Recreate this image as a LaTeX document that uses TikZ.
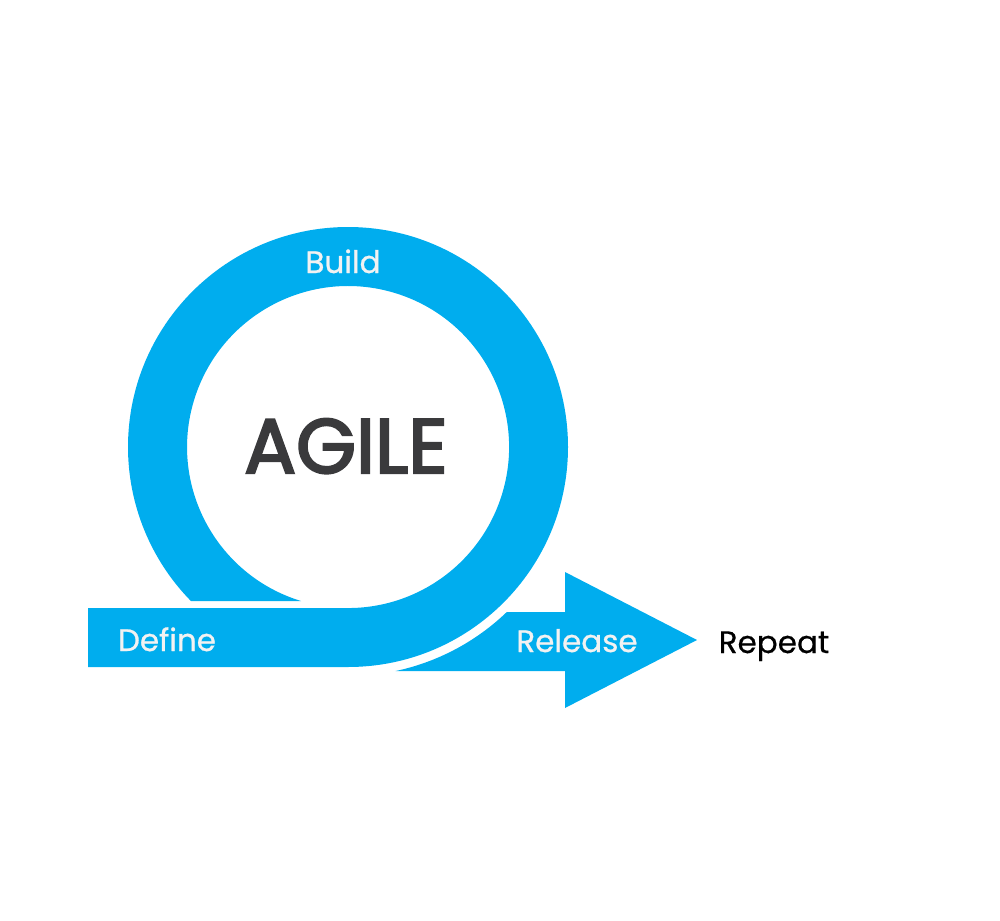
\documentclass[tikz,border=0pt]{standalone}
\usepackage{fontspec}
\setmainfont{Poppins}[FakeBold=0.8]
\newfontfamily\agilefont{Poppins}[FakeBold=3]
\newfontfamily\plainfont{Poppins}[FakeBold=0.4]
\definecolor{agileblue}{HTML}{00ADEE}
\definecolor{labelwhite}{HTML}{F2F2F2}
\definecolor{agilegray}{HTML}{3A3A3C}
\begin{document}
\begin{tikzpicture}[x=1pt,y=1pt,
  bluefill/.style={fill=agileblue,draw=none},
  label/.style={text=labelwhite,font=\fontsize{31}{31}\selectfont,inner sep=0pt,anchor=base},
  outerlabel/.style={text=black,font=\plainfont\fontsize{31}{31}\selectfont,inner sep=0pt,anchor=base}]
\useasboundingbox (0,0) rectangle (1000,-920);
\coordinate (C) at (348,-447);
% ring joined with the Define band
\path[bluefill] (88,-667) -- (348,-667) arc[start angle=-90,end angle=224.43,radius=220]
  -- (301.0,-601) arc[start angle=253.0,end angle=-90,radius=161] -- (88,-608) -- cycle;
% release arrow
\path[bluefill] (395.7,-671) arc[start angle=-77.97,end angle=-46.1,radius=229]
  -- (565,-612) -- (565,-572) -- (697,-640) -- (565,-708) -- (565,-671) -- cycle;
\node[label] (build) at (343,-273) {Build};
\node[text=agilegray,font=\agilefont\fontsize{77}{77}\selectfont,inner sep=0pt,anchor=base] (agile) at (346,-473) {AGILE};
\node[label] (define) at (167,-651) {Define};
\node[label] (release) at (577,-652) {Release};
\node[outerlabel] (repeat) at (774,-653) {Repeat};
\end{tikzpicture}
\end{document}
